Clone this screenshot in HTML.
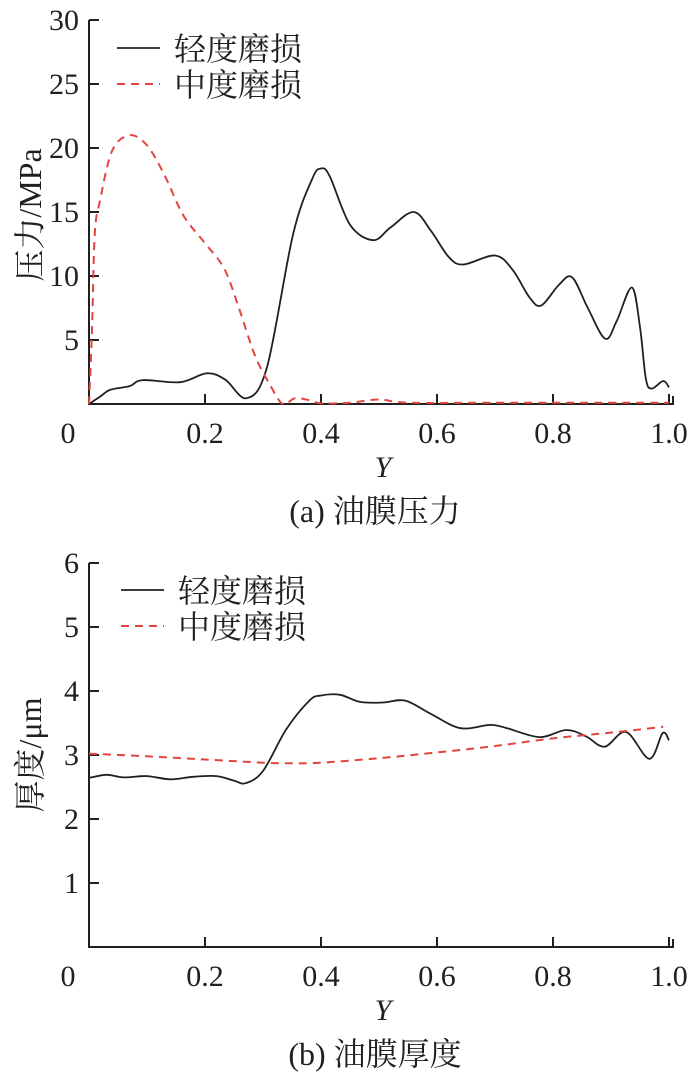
<!DOCTYPE html>
<html><head><meta charset="utf-8"><style>
html,body{margin:0;padding:0;background:#fff;}
svg{display:block;}
text{font-family:"Liberation Serif","Noto Serif CJK SC",serif;fill:#231f20;}
</style></head><body>
<svg id="fig" width="700" height="1078" viewBox="0 0 700 1078"></svg>
<script>
// chart (a) data
const xA_light = [0,0.02,0.036,0.07,0.093,0.157,0.203,0.235,0.272,0.307,0.352,0.385,0.40,0.415,0.45,0.49,0.52,0.56,0.59,0.62,0.645,0.70,0.73,0.76,0.78,0.81,0.833,0.86,0.89,0.91,0.936,0.95,0.96,0.97,0.99,1.0];
const yA_light = [0,0.6,1.1,1.4,1.87,1.7,2.4,1.9,0.45,2.9,13.3,17.6,18.4,17.8,14,12.8,13.8,15,13.5,11.5,10.9,11.6,10.5,8.3,7.7,9.3,9.9,7.5,5.1,6.5,9.1,6,2,1.2,1.8,1.3];
const xA_mod = [0,0.005,0.01,0.019,0.04,0.07,0.1,0.13,0.157,0.174,0.203,0.234,0.26,0.286,0.312,0.334,0.355,0.38,0.4,0.45,0.5,0.55,0.7,0.85,1.0];
const yA_mod = [0,5.5,13.3,15.9,19.8,21,20.2,17.9,15.2,14,12.4,10.5,7.3,3.8,1.5,0,0.45,0.3,0.05,0.1,0.35,0.1,0.1,0.1,0.1];
const yTicksA = [5,10,15,20,25,30];
const xTicks = [0.2,0.4,0.6,0.8,1.0];
const xTickLabels = ["0","0.2","0.4","0.6","0.8","1.0"];
// chart (b) data
const xB_light = [0,0.03,0.06,0.1,0.14,0.18,0.22,0.25,0.27,0.3,0.34,0.38,0.40,0.433,0.467,0.507,0.545,0.588,0.64,0.692,0.72,0.777,0.823,0.857,0.889,0.926,0.966,0.989,1.0];
const yB_light = [2.64,2.69,2.65,2.67,2.62,2.66,2.67,2.6,2.56,2.75,3.4,3.85,3.93,3.94,3.83,3.82,3.85,3.65,3.42,3.47,3.42,3.28,3.39,3.29,3.13,3.36,2.94,3.34,3.23];
const xB_mod = [0,0.1,0.2,0.3,0.35,0.4,0.5,0.6,0.7,0.8,0.9,0.99];
const yB_mod = [3.02,2.98,2.93,2.88,2.87,2.88,2.95,3.04,3.14,3.26,3.35,3.44];
const yTicksB = [1,2,3,4,5,6];

const NS="http://www.w3.org/2000/svg";
const svg=document.getElementById('fig');
function mk(tag,attrs,parent){const e=document.createElementNS(NS,tag);for(const k in attrs)e.setAttribute(k,attrs[k]);(parent||svg).appendChild(e);return e;}
function smooth(pts){let d='M'+pts[0][0].toFixed(1)+','+pts[0][1].toFixed(1);for(let i=0;i<pts.length-1;i++){const p0=pts[Math.max(0,i-1)],p1=pts[i],p2=pts[i+1],p3=pts[Math.min(pts.length-1,i+2)];const c1=[p1[0]+(p2[0]-p0[0])/6,p1[1]+(p2[1]-p0[1])/6],c2=[p2[0]-(p3[0]-p1[0])/6,p2[1]-(p3[1]-p1[1])/6];d+=' C'+c1[0].toFixed(1)+','+c1[1].toFixed(1)+' '+c2[0].toFixed(1)+','+c2[1].toFixed(1)+' '+p2[0].toFixed(1)+','+p2[1].toFixed(1);}return d;}

function chart(o){
  const g=mk('g',{});
  
  
  const X=v=>89+v*580, Y=v=>o.y0-(v/o.ymax)*(o.y0-o.ytop);
  const ax=mk('path',{d:`M89,${o.ytop} V${o.y0} H673 V${o.y0-8}`,fill:'none',stroke:'#231f20','stroke-width':2},g);
  
  
  o.yTicks.forEach(t=>{
    const l=mk('line',{x1:89,x2:99,y1:Y(t),y2:Y(t),stroke:'#231f20','stroke-width':2},g);
    
    
    const tx=mk('text',{x:79,y:Y(t)+10,'font-size':30,'text-anchor':'end'},g);tx.textContent=t;
    
    
  });
  xTicks.forEach(t=>{
    const l=mk('line',{x1:X(t),x2:X(t),y1:o.y0,y2:o.y0-10,stroke:'#231f20','stroke-width':2},g);
    
    
  });
  [0].concat(xTicks).forEach((t,i)=>{
    const tx=mk('text',{x:t===0?68:X(t),y:o.y0+39,'font-size':30,'text-anchor':'middle'},g);tx.textContent=xTickLabels[i];
    
    
  });
  const xt=mk('text',{x:383,y:o.y0+73,'font-size':30,'font-style':'italic','text-anchor':'middle'},g);xt.textContent='Y';
  
  
  const yt=mk('text',{x:0,y:0,'font-size':32,'text-anchor':'middle',transform:`translate(41,${o.ytitleY}) rotate(-90)`},g);yt.textContent=o.ytitle;
  
  
  const cap=mk('text',{x:375,y:o.y0+118,'font-size':32,'text-anchor':'middle'},g);cap.textContent=o.caption;
  
  
  const p1=mk('path',{d:smooth(o.lx.map((x,i)=>[X(x),Y(o.ly[i])])),fill:'none',stroke:'#231f20','stroke-width':1.8},g);
  
  
  const p2=mk('path',{d:smooth(o.mx.map((x,i)=>[X(x),Y(o.my[i])])),fill:'none',stroke:'#e0463f','stroke-width':2,'stroke-dasharray':'8,6'},g);
  
  
  const L=o.leg;
  const ll=mk('line',{x1:L.x,x2:L.x+43,y1:L.y,y2:L.y,stroke:'#231f20','stroke-width':1.8},g);
  
  
  const lt=mk('text',{x:L.x+57,y:L.y+12,'font-size':32},g);lt.textContent='轻度磨损';
  
  
  const ml=mk('line',{x1:L.x,x2:L.x+43,y1:L.y+36,y2:L.y+36,stroke:'#e0463f','stroke-width':2,'stroke-dasharray':'8,6'},g);
  
  
  const mt=mk('text',{x:L.x+57,y:L.y+48,'font-size':32},g);mt.textContent='中度磨损';
  
  
}
chart({name:'chart-oil-film-pressure',y0:404,ytop:20,ymax:30,yTicks:yTicksA,ytitle:'压力/MPa',ytitleY:215,caption:'(a)  油膜压力',lx:xA_light,ly:yA_light,mx:xA_mod,my:yA_mod,leg:{x:117,y:48}});
chart({name:'chart-oil-film-thickness',y0:947,ytop:563,ymax:6,yTicks:yTicksB,ytitle:'厚度/μm',ytitleY:755,caption:'(b)  油膜厚度',lx:xB_light,ly:yB_light,mx:xB_mod,my:yB_mod,leg:{x:121,y:590}});
</script>
</body></html>
